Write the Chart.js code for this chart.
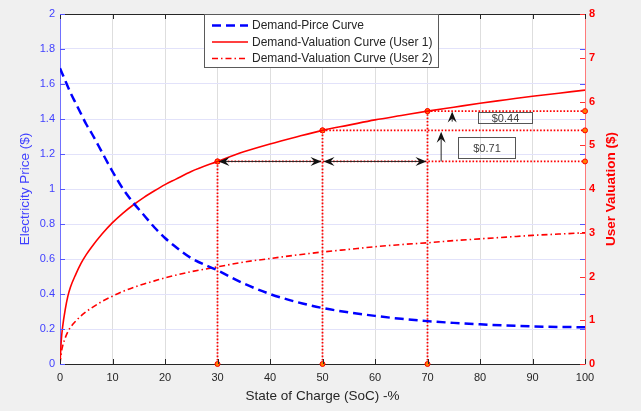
<!DOCTYPE html>
<html><head><meta charset="utf-8">
<script src="https://cdn.jsdelivr.net/npm/chart.js@4"></script>
<style>html,body{margin:0;padding:0;background:#f0f0f0;overflow:hidden}canvas{display:block}</style>
</head><body>
<canvas id="c" width="641" height="411"></canvas>
<script>
// ---- data ----
const priceSoc = [0,1,2,3,4,5,6,8,10,12,14,16,18,20,22,25,30,35,40,45,50,55,60,65,70,75,80,85,90,95,100];
const priceVals = [1.69,1.62,1.55,1.49,1.43,1.37,1.32,1.21,1.10,1.00,0.92,0.85,0.78,0.72,0.67,0.605,0.535,0.46,0.40,0.355,0.32,0.295,0.275,0.258,0.245,0.235,0.227,0.22,0.215,0.212,0.21];
const valSoc = [0,0.25,0.5,1,1.5,2,3,4,5,6,8,10,12,14,16,18,20,22,25,30,35,40,45,50,55,60,65,70,75,80,85,90,95,100];
const user1Vals = [0,0.55,0.85,1.25,1.55,1.76,2.05,2.3,2.5,2.67,2.97,3.23,3.45,3.64,3.81,3.96,4.10,4.22,4.40,4.63,4.85,5.03,5.19,5.34,5.46,5.58,5.68,5.78,5.87,5.96,6.04,6.12,6.19,6.26];
const user2Vals = [0,0.26,0.41,0.6,0.74,0.84,0.98,1.10,1.2,1.28,1.43,1.55,1.66,1.75,1.83,1.90,1.97,2.03,2.11,2.22,2.33,2.41,2.49,2.56,2.62,2.68,2.73,2.77,2.82,2.86,2.90,2.94,2.97,3.00];
const markSoc = [30,50,70];
const markVals = [4.63,5.34,5.78];
const seriesLabels = ['Demand-Pirce Curve','Demand-Valuation Curve (User 1)','Demand-Valuation Curve (User 2)'];
const xTitle = 'State of Charge (SoC) -%';
const yTitle = 'Electricity Price ($)';
const y1Title = 'User Valuation ($)';
// annotation arrows / text boxes in data units (x: SoC, y: right axis)
const vArrows = [[72.6,4.63,5.31],[74.7,5.54,5.77]];
const textBoxes = [['$0.71',75.8,86.7,4.70,5.20],['$0.44',79.6,89.9,5.52,5.77]];

const FONT = '"Liberation Sans", Arial, sans-serif';
const pts = (xs, ys) => xs.map((x,i)=>({x, y: ys[i]}));

const datasets = [
  {label:seriesLabels[0], data:pts(priceSoc,priceVals), yAxisID:'y', borderColor:'#0000ff', borderWidth:2.5, borderDash:[9,5], pointRadius:0, cubicInterpolationMode:'monotone', fill:false},
  {label:seriesLabels[1], data:pts(valSoc,user1Vals), yAxisID:'y1', borderColor:'#ff0000', borderWidth:1.6, pointRadius:0, cubicInterpolationMode:'monotone', fill:false},
  {label:seriesLabels[2], data:pts(valSoc,user2Vals), yAxisID:'y1', borderColor:'#ff0000', borderWidth:1.6, borderDash:[6,3,1.5,3], pointRadius:0, cubicInterpolationMode:'monotone', fill:false}
];
markSoc.forEach((s,i)=>{
  const common = {yAxisID:'y1', borderColor:'#ff0000', borderWidth:1.8, borderDash:[1.6,1.8], pointRadius:2.5, pointBorderColor:'#ff0000', pointBackgroundColor:'#ff8000', pointBorderWidth:1, fill:false, clip:false, label:'_nolegend'};
  datasets.push(Object.assign({data:[{x:s,y:0},{x:s,y:markVals[i]}]}, common));
  datasets.push(Object.assign({data:[{x:s,y:markVals[i]},{x:100,y:markVals[i]}]}, common));
});

function arrowHead(ctx, x, y, ang){
  const L=11, W=4.5, N=7;
  ctx.save(); ctx.translate(x,y); ctx.rotate(ang);
  ctx.beginPath(); ctx.moveTo(0,0); ctx.lineTo(-L,W); ctx.lineTo(-N,0); ctx.lineTo(-L,-W); ctx.closePath();
  ctx.fill(); ctx.restore();
}

const decor = {
  id:'decor',
  beforeDraw(chart){
    const {ctx, chartArea:a} = chart;
    ctx.save();
    ctx.fillStyle='#f0f0f0'; ctx.fillRect(0,0,chart.width,chart.height);
    ctx.fillStyle='#ffffff'; ctx.fillRect(a.left,a.top,a.right-a.left,a.bottom-a.top);
    ctx.restore();
  },
  afterDraw(chart){
    const {ctx, chartArea:a, scales} = chart;
    const xs = scales.x, ys = scales.y, y1 = scales.y1;
    ctx.save();
    ctx.lineWidth = 1;
    // top border
    ctx.strokeStyle = '#262626';
    ctx.beginPath(); ctx.moveTo(a.left, a.top+0.5); ctx.lineTo(a.right, a.top+0.5); ctx.stroke();
    // x ticks (inward, bottom and top)
    xs.ticks.forEach(t=>{
      const px = Math.round(xs.getPixelForValue(t.value))+0.5;
      ctx.beginPath(); ctx.moveTo(px,a.bottom); ctx.lineTo(px,a.bottom-5);
      ctx.moveTo(px,a.top); ctx.lineTo(px,a.top+5); ctx.stroke();
    });
    // left axis ticks (both sides)
    ctx.strokeStyle = '#5555ff';
    ys.ticks.forEach(t=>{
      const py = Math.round(ys.getPixelForValue(t.value))+0.5;
      ctx.beginPath(); ctx.moveTo(a.left,py); ctx.lineTo(a.left+5,py);
      ctx.moveTo(a.right,py); ctx.lineTo(a.right-5,py); ctx.stroke();
    });
    // right axis ticks
    ctx.strokeStyle = '#ff3030';
    y1.ticks.forEach(t=>{
      const py = Math.round(y1.getPixelForValue(t.value))+0.5;
      ctx.beginPath(); ctx.moveTo(a.right,py); ctx.lineTo(a.right-5,py); ctx.stroke();
    });
    // horizontal double arrows between marked points
    ctx.strokeStyle = '#262626'; ctx.fillStyle = '#111111';
    const yb = y1.getPixelForValue(markVals[0]);
    for (let i=0;i<markSoc.length-1;i++){
      const p0 = xs.getPixelForValue(markSoc[i]), p1 = xs.getPixelForValue(markSoc[i+1]);
      ctx.beginPath(); ctx.moveTo(p0+3,yb); ctx.lineTo(p1-3,yb); ctx.stroke();
      arrowHead(ctx,p0+1,yb,Math.PI);
      arrowHead(ctx,p1-1,yb,0);
    }
    // vertical arrows
    vArrows.forEach(([sx,v0,v1])=>{
      const px = xs.getPixelForValue(sx), py0 = y1.getPixelForValue(v0), py1 = y1.getPixelForValue(v1);
      ctx.beginPath(); ctx.moveTo(px,py0); ctx.lineTo(px,py1+3); ctx.stroke();
      arrowHead(ctx,px,py1,-Math.PI/2);
    });
    // text boxes
    textBoxes.forEach(([txt,x0,x1,v0,v1])=>{
      const l = Math.round(xs.getPixelForValue(x0))+0.5, r = Math.round(xs.getPixelForValue(x1))+0.5;
      const t = Math.round(y1.getPixelForValue(v1))+0.5, b = Math.round(y1.getPixelForValue(v0))+0.5;
      ctx.strokeStyle='#555555'; ctx.lineWidth=1; ctx.strokeRect(l,t,r-l,b-t);
      ctx.fillStyle='#404040'; ctx.font = '11px '+FONT; ctx.textAlign='center'; ctx.textBaseline='middle';
      ctx.fillText(txt,(l+r)/2,(t+b)/2+0.5);
    });
    // legend
    const lx=204.5, ly=a.top+0.5, lw=234, lh=53;
    ctx.fillStyle='#ffffff'; ctx.fillRect(lx,ly,lw,lh);
    ctx.strokeStyle='#5a5a5a'; ctx.lineWidth=1; ctx.strokeRect(lx,ly,lw,lh);
    const rows=[25.5,42,58.5];
    for (let i=0;i<3;i++){
      const ds = chart.data.datasets[i];
      ctx.strokeStyle = ds.borderColor; ctx.lineWidth = ds.borderWidth;
      ctx.setLineDash(ds.borderDash||[]);
      ctx.beginPath(); ctx.moveTo(212,rows[i]); ctx.lineTo(248,rows[i]); ctx.stroke();
      ctx.setLineDash([]);
      ctx.fillStyle='#262626'; ctx.font='12px '+FONT; ctx.textAlign='left'; ctx.textBaseline='middle';
      ctx.fillText(ds.label,252,rows[i]+0.5);
    }
    // right axis title (reads bottom-to-top)
    ctx.save();
    ctx.translate(611.5,(a.top+a.bottom)/2); ctx.rotate(-Math.PI/2);
    ctx.fillStyle='#ff0000'; ctx.font='bold 13.5px '+FONT; ctx.textAlign='center'; ctx.textBaseline='middle';
    ctx.fillText(y1Title,0,0);
    ctx.restore();
    ctx.restore();
  }
};

new Chart(document.getElementById('c'), {
  type:'line',
  data:{datasets},
  plugins:[decor],
  options:{
    responsive:false, animation:false, devicePixelRatio:1,
    layout:{padding:{top:14,left:0,right:0,bottom:0}},
    plugins:{legend:{display:false}, tooltip:{enabled:false}},
    elements:{line:{borderCapStyle:'butt'}},
    scales:{
      x:{type:'linear', min:0, max:100,
        ticks:{stepSize:10, color:'#262626', font:{family:FONT,size:11}, padding:7, maxRotation:0},
        grid:{color:'#dedede', drawTicks:false},
        border:{color:'#262626'},
        title:{display:true, text:xTitle, color:'#262626', font:{family:FONT,size:13.5}, padding:{top:0,bottom:7}},
        afterFit(s){ s.height = 47; }
      },
      y:{position:'left', min:0, max:2,
        ticks:{stepSize:0.2, color:'#3f3fff', font:{family:FONT,size:11}, padding:5, callback:v=>String(Math.round(v*10)/10)},
        grid:{color:'#e2e2fa', drawTicks:false},
        border:{color:'#7070ff'},
        title:{display:true, text:yTitle, color:'#3f3fff', font:{family:FONT,size:13.5}, padding:{top:17.5,bottom:0}},
        afterFit(s){ s.width = 60; }
      },
      y1:{position:'right', min:0, max:8,
        ticks:{stepSize:1, color:'#ff0000', font:{family:FONT,size:11,weight:'bold'}, padding:4},
        grid:{drawOnChartArea:false, drawTicks:false},
        border:{color:'#ff7a7a'},
        afterFit(s){ s.width = 56; }
      }
    }
  }
});
</script>
</body></html>
